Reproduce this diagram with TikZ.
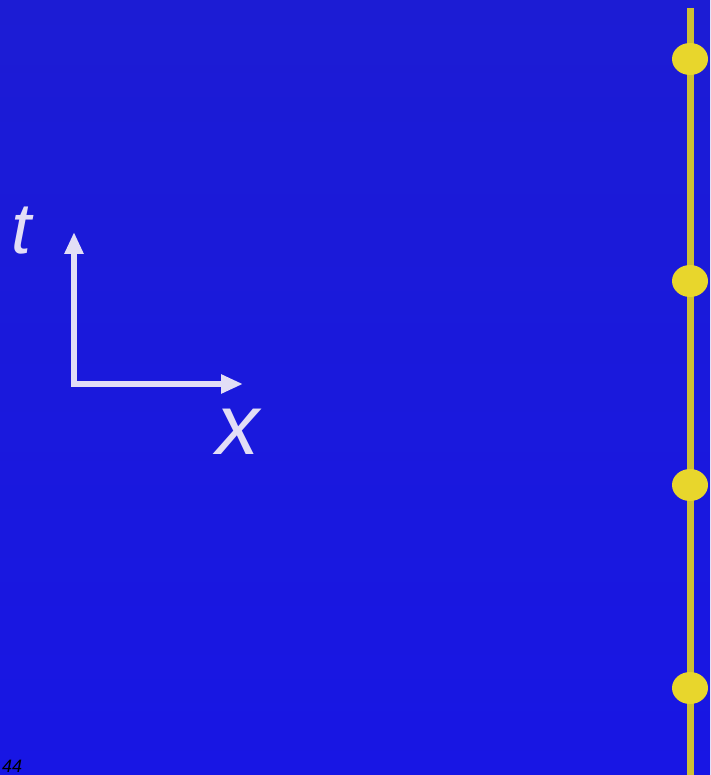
\documentclass[tikz,border=0pt]{standalone}
\usepackage{fontspec}
\setmainfont{Liberation Sans}
\usetikzlibrary{positioning,arrows.meta,shapes.geometric}
\definecolor{stblue}{RGB}{24,22,228}
\definecolor{stbluedark}{RGB}{28,28,212}
\definecolor{staxis}{RGB}{226,222,246}
\definecolor{styellow}{RGB}{232,214,44}
\definecolor{stline}{RGB}{206,192,52}

\begin{document}
\begin{tikzpicture}[x=1pt, y=-1pt]
  \tikzset{
    axis/.style={line width=5.5pt, staxis, line join=miter, {Triangle[length=22pt, width=18pt]}-{Triangle[length=22pt, width=18pt]}},
    axislabel/.style={text=staxis, inner sep=0pt, font=\itshape},
    worldline/.style={line width=7pt, stline},
    event/.style={ellipse, fill=styellow, minimum width=36pt, minimum height=32pt, inner sep=0pt}
  }

  % background
  \shade[top color=stbluedark, bottom color=stblue] (0,0) rectangle (710,775);
  \useasboundingbox (0,0) rectangle (710,775);

  % axes
  \coordinate (O) at (74,384);
  \coordinate (ttip) at (74,232);
  \coordinate (xtip) at (243,384);
  \draw[axis] (ttip) -- (O) -- (xtip);
  \node[axislabel, font=\fontsize{72}{80}\itshape\selectfont] (tlab) at (22,231) {t};
  \node[axislabel, font=\fontsize{86}{90}\itshape\selectfont] (xlab) at (238,432) {x};

  % world line with events
  \coordinate (wtop) at (690,8);
  \coordinate (wbot) at (690,775);
  \draw[worldline] (wtop) -- (wbot);
  \foreach \y [count=\i] in {59,281,485,688} {
    \node[event] (ev\i) at (690,\y) {};
  }

  \node[anchor=base west, inner sep=0pt, font=\fontsize{18}{20}\itshape\selectfont] (pg) at (2,772) {44};
\end{tikzpicture}
\end{document}
